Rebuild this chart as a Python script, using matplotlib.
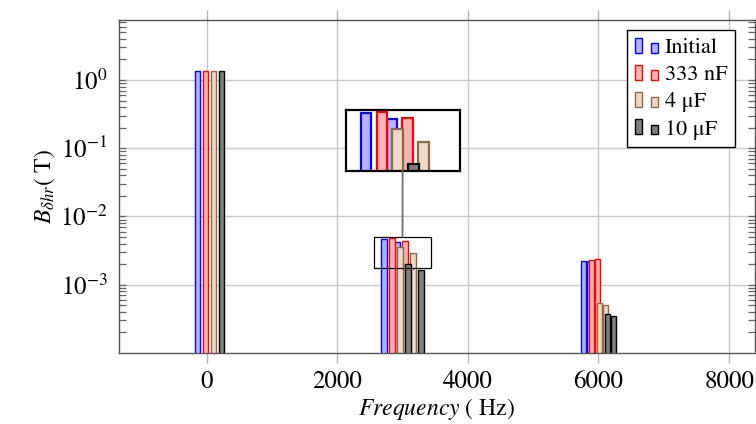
import numpy as np
import matplotlib.pyplot as plt
from matplotlib.patches import Rectangle, ConnectionPatch
from matplotlib.legend_handler import HandlerBase
from matplotlib.ticker import NullLocator

plt.rcParams['font.family'] = ['STIXGeneral', 'DejaVu Serif']
plt.rcParams['mathtext.fontset'] = 'stix'

# ── data (harmonic amplitudes, Tesla) ──────────────────────────────────
series_names = ['Initial', '333 nF', '4 \u03bcF', '10 \u03bcF']
freqs = [50, 2900, 3100, 5950, 6050]
b_initial = [1.37, 4.7e-3, 4.25e-3, 2.22e-3, 2.2e-3]
b_333nF = [1.37, 4.8e-3, 4.35e-3, 2.32e-3, 2.37e-3]
b_4uF = [1.37, 3.6e-3, 2.9e-3, 5.3e-4, 4.96e-4]
b_10uF = [1.37, 2.0e-3, 1.65e-3, 3.75e-4, 3.42e-4]
all_series = [b_initial, b_333nF, b_4uF, b_10uF]

# ── styles ─────────────────────────────────────────────────────────────
edge_colors = ['#0000ff', '#ff0000', '#8c6a48', '#000000']
fill_colors = ['#b3b3ff', '#ffb3b3', '#ecd9c6', '#7f7f7f']
bar_shift = [-183, -61, 61, 183]
bar_width = 80
grid_col = '#c8c8c8'


class TwoBarHandler(HandlerBase):
    # pgfplots-like ybar legend image: two small bars
    def create_artists(self, legend, orig_handle, xdescent, ydescent,
                       width, height, fontsize, trans):
        w = width * 0.3
        kw = dict(facecolor=orig_handle.get_facecolor(),
                  edgecolor=orig_handle.get_edgecolor(),
                  lw=orig_handle.get_linewidth(), transform=trans)
        r1 = Rectangle((-xdescent, -ydescent), w, height, **kw)
        r2 = Rectangle((-xdescent + width - w, -ydescent), w, height * 0.64, **kw)
        return [r1, r2]


def draw_bars(axis, lw):
    for vals, ec, fc, sh in zip(all_series, edge_colors, fill_colors, bar_shift):
        axis.bar(np.array(freqs) + sh, vals, width=bar_width, bottom=1e-6,
                 color=fc, edgecolor=ec, linewidth=lw, zorder=2)


fig = plt.figure(figsize=(7.56, 4.24), dpi=100)
ax = fig.add_axes([0.1574, 0.1675, 0.8412, 0.7860])
ax.set_yscale('log')
draw_bars(ax, 1.0)

ax.set_xlim(-1340, 8395)
ax.set_ylim(1e-4, 7.65)
ax.set_xticks([0, 2000, 4000, 6000, 8000])
ax.set_yticks([1e-3, 1e-2, 1e-1, 1e0])
ax.grid(True, which='major', color=grid_col, lw=1.0, zorder=0)
ax.set_axisbelow(True)

ax.tick_params(axis='x', which='major', direction='out', top=True, bottom=True,
               length=7, width=1.0, color='#b4b4b4', labelsize=18, pad=5)
ax.tick_params(axis='y', which='both', direction='in', left=True, right=True,
               color='#666666', width=0.9, labelsize=18, pad=8)
ax.tick_params(axis='y', which='major', length=5)
ax.tick_params(axis='y', which='minor', length=5)
for sp in ax.spines.values():
    sp.set_color('#555555')
    sp.set_linewidth(1.0)

ax.set_xlabel(r'$\mathit{Frequency}$ ( Hz)', fontsize=17, labelpad=2)
ax.set_ylabel(r'$B_{\delta hr}$( T)', fontsize=17, labelpad=2)

# ── spy: magnified view around 3 kHz ───────────────────────────────────
spy_x = (2562, 3438)
spy_y = (1.78e-3, 5.0e-3)
ax.add_patch(Rectangle((spy_x[0], spy_y[0]), spy_x[1] - spy_x[0], spy_y[1] - spy_y[0],
                       fill=False, edgecolor='black', lw=0.9, zorder=4))

axins = ax.inset_axes([0.3565, 0.547, 0.179, 0.183])
axins.set_yscale('log')
draw_bars(axins, 1.6)
axins.set_xlim(*spy_x)
axins.set_ylim(*spy_y)
axins.set_xticks([])
axins.set_yticks([])
axins.yaxis.set_minor_locator(NullLocator())
for sp in axins.spines.values():
    sp.set_color('black')
    sp.set_linewidth(1.6)

con = ConnectionPatch(xyA=(0.5, 0.0), coordsA=axins.transAxes,
                      xyB=(3000, spy_y[1]), coordsB=ax.transData,
                      color='#707070', lw=1.3, zorder=1)
fig.add_artist(con)

# ── legend ─────────────────────────────────────────────────────────────
proxies = [Rectangle((0, 0), 1, 1, facecolor=fc, edgecolor=ec, lw=1.0)
           for ec, fc in zip(edge_colors, fill_colors)]
leg = ax.legend(proxies, series_names, handler_map={Rectangle: TwoBarHandler()},
                loc='upper right', bbox_to_anchor=(0.969, 0.969), borderaxespad=0,
                fontsize=16, handlelength=1.05, handleheight=0.68, handletextpad=0.3,
                labelspacing=0.3, borderpad=0.35, fancybox=False, framealpha=1,
                edgecolor='black')
leg.get_frame().set_linewidth(1.0)

plt.savefig('out.png', dpi=100)
